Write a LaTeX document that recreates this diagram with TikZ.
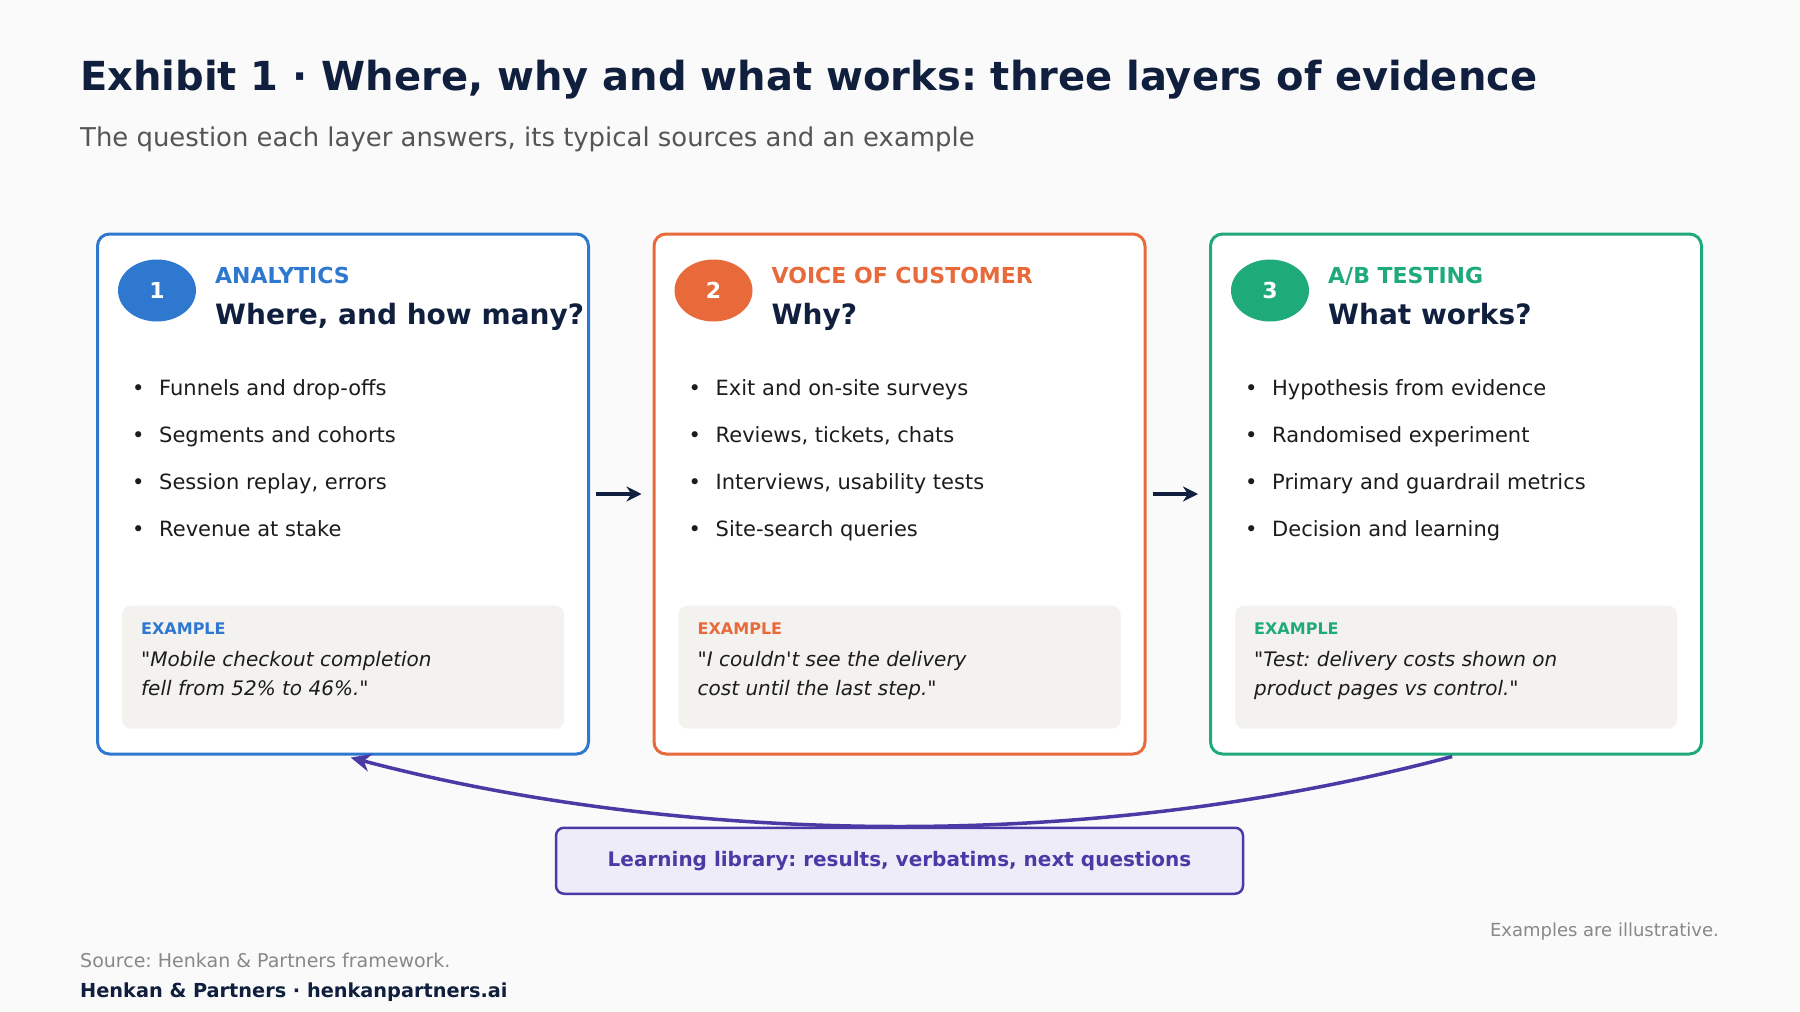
\documentclass[tikz,border=0pt]{standalone}
\usepackage{fontspec}
\setmainfont{DejaVu Sans}[Ligatures=TeXOff]
\usetikzlibrary{arrows.meta,positioning,shapes.geometric,calc}
\definecolor{Canvas}{HTML}{FAFAFA}
\definecolor{Ink}{HTML}{0F1F3D}
\definecolor{Blue}{HTML}{2F78D0}
\definecolor{Orange}{HTML}{E8693A}
\definecolor{Green}{HTML}{1FAA7A}
\definecolor{Purple}{HTML}{4A3AA5}
\definecolor{Lilac}{HTML}{EFECFA}
\definecolor{Panel}{HTML}{F3F2EE}
\definecolor{Body}{HTML}{1C1C1C}
\definecolor{Grey}{HTML}{555555}
\definecolor{Faint}{HTML}{888888}
\newcommand{\px}[2]{\fontsize{#1}{#2}\selectfont}
\frenchspacing
\tikzset{
  every node/.append style={inner sep=0pt},
  layer/.style={draw=#1, line width=3pt, rounded corners=12pt, fill=white,
                minimum width=491pt, minimum height=520pt},
  badge/.style={ellipse, fill=#1, minimum width=78pt, minimum height=62pt,
                text=white, font=\px{22}{26}\bfseries},
  kicker/.style={anchor=base west, text=#1, font=\px{22}{26}\bfseries},
  question/.style={anchor=base west, text=Ink, font=\px{28}{33}\bfseries},
  item/.style={anchor=base west, text=Body, font=\px{21}{25}},
  panel/.style={anchor=north west, fill=Panel, rounded corners=9pt,
                minimum width=442pt, minimum height=123pt},
  eglabel/.style={anchor=base west, text=#1, font=\px{16}{19}\bfseries},
  quote/.style={anchor=north west, align=left, text=Body, font=\px{20}{29}\itshape},
  flow/.style={-{Stealth[length=15pt,width=15pt]}, line width=4pt, draw=Ink,
               shorten <=6pt, shorten >=11pt},
  feedback/.style={-{Stealth[length=20pt,width=18pt]}, line width=3.5pt, draw=Purple,
                   shorten <=4pt, shorten >=8pt},
  library/.style={draw=Purple, line width=2.5pt, fill=Lilac, rounded corners=8pt,
                  minimum width=687pt, minimum height=66pt, text=Purple,
                  font=\px{20}{24}\bfseries},
  note/.style={anchor=base west, text=Faint, font=\px{19}{23}},
}
\begin{document}
\begin{tikzpicture}[x=1pt,y=-1pt]
  \fill[Canvas] (0,0) rectangle (1800,1012);
  \useasboundingbox (0,0) rectangle (1800,1012);

  \node[anchor=base west, text=Ink, font=\px{40}{46}\bfseries] (title) at (80,90)
    {Exhibit 1 · Where, why and what works: three layers of evidence};
  \node[anchor=base west, text=Grey, font=\px{25.9}{31}] (subtitle) at (80,146)
    {The question each layer answers, its typical sources and an example};

  % the three layers
  \node[layer=Blue] (b1) at (343,494) {};
  \node[layer=Orange, right=62.5pt of b1] (b2) {};
  \node[layer=Green, right=62.5pt of b2] (b3) {};

  \node[badge=Blue] (n1) at ($(b1.north west)+(61,58)$) {1};
  \node[kicker=Blue] (k1) at ($(b1.north west)+(119,51)$) {ANALYTICS};
  \node[question] (q1) at ($(b1.north west)+(119,92)$) {Where, and how many?};
  \foreach \txt [count=\i] in {Funnels and drop-offs, Segments and cohorts,
      {Session replay, errors}, Revenue at stake}
    \node[item] (i1-\i) at ($(b1.north west)+(36,116+47*\i)$) {\makebox[27pt][l]{•}\txt};
  \node[panel] (p1) at ($(b1.north west)+(26,373)$) {};
  \node[eglabel=Blue] (e1) at ($(p1.north west)+(19,29)$) {EXAMPLE};
  \node[quote] (x1) at ($(p1.north west)+(19,46)$) {"Mobile checkout completion\\fell from 52\% to 46\%."};

  \node[badge=Orange] (n2) at ($(b2.north west)+(61,58)$) {2};
  \node[kicker=Orange] (k2) at ($(b2.north west)+(119,51)$) {VOICE OF CUSTOMER};
  \node[question] (q2) at ($(b2.north west)+(119,92)$) {Why?};
  \foreach \txt [count=\i] in {Exit and on-site surveys, {Reviews, tickets, chats},
      {Interviews, usability tests}, Site-search queries}
    \node[item] (i2-\i) at ($(b2.north west)+(36,116+47*\i)$) {\makebox[27pt][l]{•}\txt};
  \node[panel] (p2) at ($(b2.north west)+(26,373)$) {};
  \node[eglabel=Orange] (e2) at ($(p2.north west)+(19,29)$) {EXAMPLE};
  \node[quote] (x2) at ($(p2.north west)+(19,46)$) {"I couldn't see the delivery\\cost until the last step."};

  \node[badge=Green] (n3) at ($(b3.north west)+(61,58)$) {3};
  \node[kicker=Green] (k3) at ($(b3.north west)+(119,51)$) {A/B TESTING};
  \node[question] (q3) at ($(b3.north west)+(119,92)$) {What works?};
  \foreach \txt [count=\i] in {Hypothesis from evidence, Randomised experiment,
      Primary and guardrail metrics, Decision and learning}
    \node[item] (i3-\i) at ($(b3.north west)+(36,116+47*\i)$) {\makebox[27pt][l]{•}\txt};
  \node[panel] (p3) at ($(b3.north west)+(26,373)$) {};
  \node[eglabel=Green] (e3) at ($(p3.north west)+(19,29)$) {EXAMPLE};
  \node[quote] (x3) at ($(p3.north west)+(19,46)$) {"Test: delivery costs shown on\\product pages vs control."};

  \draw[flow] (b1) -- (b2);
  \draw[flow] (b2) -- (b3);

  % feedback loop through the library
  \node[library, below=71pt of b2] (lib) {Learning library: results, verbatims, next questions};
  \draw[feedback] (b3.south) .. controls +(-185,49) and +(185,0) .. (lib.north)
    .. controls +(-185,0) and +(185,49) .. (b1.south);

  \node[note, anchor=base east, font=\px{18}{22}] (caveat) at (1719,936) {Examples are illustrative.};
  \node[note] (source) at (80,967) {Source: Henkan \& Partners framework.};
  \node[anchor=base west, text=Ink, font=\px{19.3}{23}\bfseries] (brand) at (80,997)
    {Henkan \& Partners · henkanpartners.ai};
\end{tikzpicture}
\end{document}
